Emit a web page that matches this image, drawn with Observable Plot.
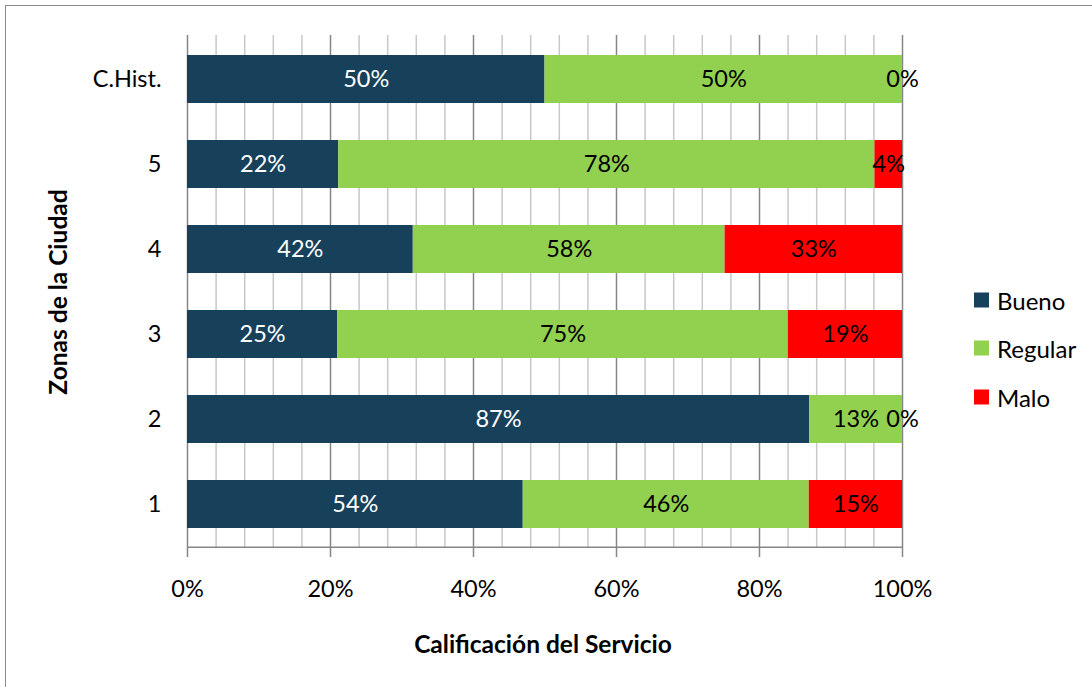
<!DOCTYPE html>
<html>
<head>
<meta charset="utf-8">
<script src="https://cdn.jsdelivr.net/npm/d3@7"></script>
<script src="https://cdn.jsdelivr.net/npm/@observablehq/plot@0.6"></script>
<style>
  html, body { margin: 0; padding: 0; background: #fff; }
  #wrap { position: relative; width: 1092px; height: 687px; overflow: hidden; font-family: Lato, "Open Sans", sans-serif; color: #000; }
  #border { position: absolute; left: 5px; top: 5px; width: 1200px; height: 800px; border: 1.5px solid #8c8c8c; }
  #chart { position: absolute; left: 0; top: 0; }
  .title { position: absolute; font-weight: bold; font-size: 24.5px; white-space: nowrap; }
  #xtitle { left: 543px; top: 643px; transform: translate(-50%, -50%); }
  #ytitle { left: 57px; top: 292px; transform: translate(-50%, -50%) rotate(-90deg); }
  #legend { position: absolute; left: 974px; top: 0; font-size: 24px; }
  .item { position: absolute; left: 0; display: flex; align-items: center; white-space: nowrap; transform: translateY(-50%); }
  .sw { width: 15px; height: 15px; margin-right: 8px; }
</style>
</head>
<body>
<div id="wrap">
  <div id="border"></div>
  <div id="chart"></div>
  <div id="xtitle" class="title">Calificación del Servicio</div>
  <div id="ytitle" class="title">Zonas de la Ciudad</div>
  <div id="legend"></div>
</div>
<script>
const zones = ["C.Hist.", "5", "4", "3", "2", "1"];
const categories = ["Bueno", "Regular", "Malo"];
const bueno = [50, 22, 42, 25, 87, 54];
const regular = [50, 78, 58, 75, 13, 46];
const malo = [0, 4, 33, 19, 0, 15];
const colors = ["#17405B", "#92D050", "#FF0000"];
const majorTicks = [0, 0.2, 0.4, 0.6, 0.8, 1];
const majorTickLabels = ["0%", "20%", "40%", "60%", "80%", "100%"];
const minorTicks = [0.04, 0.08, 0.12, 0.16, 0.24, 0.28, 0.32, 0.36, 0.44, 0.48, 0.52, 0.56, 0.64, 0.68, 0.72, 0.76, 0.84, 0.88, 0.92, 0.96];

const series = [bueno, regular, malo];
const data = zones.flatMap((z, i) => categories.map((c, j) => ({zone: z, cat: c, value: series[j][i]})));

const stackOpts = {offset: "normalize", x: "value", y: "zone", z: "cat"};
const fs = 23.5;

const chart = Plot.plot({
  width: 1092,
  height: 687,
  marginLeft: 187,
  marginRight: 190,
  marginTop: 35,
  marginBottom: 139,
  style: {fontFamily: "Lato, 'Open Sans', sans-serif", fontSize: fs + "px", background: "transparent", color: "#000"},
  x: {domain: [0, 1]},
  y: {domain: zones, paddingInner: 0.44, paddingOuter: 0.22},
  color: {domain: categories, range: colors},
  marks: [
    Plot.gridX(minorTicks, {stroke: "#c8c8c8", strokeOpacity: 1, strokeWidth: 1.5}),
    Plot.gridX(majorTicks, {stroke: "#868686", strokeOpacity: 1, strokeWidth: 1.5}),
    Plot.ruleY([zones[zones.length - 1]], {stroke: "#868686", strokeWidth: 1.5, dy: 42.75, x1: 0, x2: 1}),
    Plot.barX(data, Plot.stackX({...stackOpts, fill: "cat"})),
    Plot.text(data, Plot.stackX({...stackOpts, text: d => d.value + "%", fill: d => d.cat === "Bueno" ? "#ffffff" : "#000000", fontSize: fs})),
    Plot.axisX(majorTicks, {tickSize: 9, tickPadding: 23, stroke: "#868686", strokeWidth: 1.5, tickFormat: (d, i) => majorTickLabels[i], label: null, fontSize: fs}),
    Plot.axisY({tickSize: 0, tickPadding: 26, label: null, fontSize: fs})
  ]
});
document.getElementById("chart").appendChild(chart);

const legend = document.getElementById("legend");
const legendY = [300, 348, 397];
categories.forEach((c, i) => {
  const it = document.createElement("div");
  it.className = "item";
  it.style.top = legendY[i] + "px";
  it.innerHTML = `<div class="sw" style="background:${colors[i]}"></div><span>${c}</span>`;
  legend.appendChild(it);
});
</script>
</body>
</html>
